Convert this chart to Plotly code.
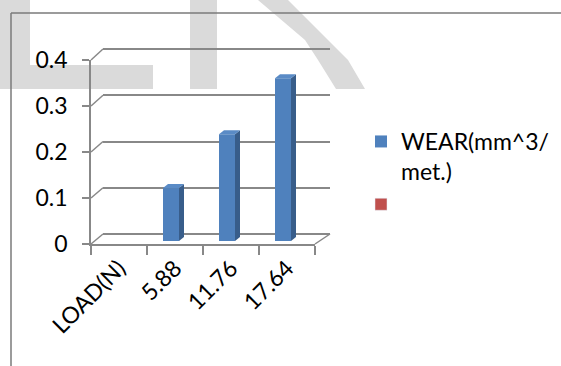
import plotly.graph_objects as go

# ---- data -------------------------------------------------------------
categories = ["LOAD(N)", "5.88", "11.76", "17.64"]
wear = [None, 0.115, 0.232, 0.354]          # WEAR(mm^3/met.)
blank_series = [None, None, None, None]     # second (empty) series
y_ticks = [0, 0.1, 0.2, 0.3, 0.4]
series_name = "WEAR(mm^3/<br>met.)"

# ---- page geometry ----------------------------------------------------
W, H = 561, 366
FONT = "Lato"
GRID = "#888888"
BLUE, BLUE_SIDE, BLUE_TOP = "#4F81BD", "#385D8A", "#5A8BC6"
RED = "#C0504D"
WATERMARK = "#DADADA"

# front plane of the 3-D box, in page pixels
FX0, FX1, FY0, FY1 = 91, 315, 244, 60
# back wall of the 3-D box
BX0, BX1, BY0, BY1 = 103, 330, 234, 49

Y_MAX = y_ticks[-1]
x_range = [-0.5, len(categories) - 0.5]
ux = (x_range[1] - x_range[0]) / (FX1 - FX0)   # data units per pixel (x)
uy = Y_MAX / (FY0 - FY1)                        # data units per pixel (y)
uyb = Y_MAX / (BY0 - BY1)


def px(x):
    return x / W


def py(y):
    return 1 - y / H


def front_y(v):
    return FY0 - v / Y_MAX * (FY0 - FY1)


def back_y(v):
    return BY0 - v / Y_MAX * (BY0 - BY1)


# bar placement inside the box depth
BAR_W_PX, BAR_SHIFT_PX, BAR_LIFT_PX = 16, -4, 3
DEPTH_X_PX, DEPTH_Y_PX = 5, 4
bar_width = BAR_W_PX * ux
bar_offset = -bar_width / 2 + BAR_SHIFT_PX * ux
bar_base = BAR_LIFT_PX * uy

fig = go.Figure()
# empty trace so the back-wall subplot (and its gridlines) is drawn
fig.add_trace(go.Scatter(x=[None], y=[None], mode="lines", showlegend=False,
                         hoverinfo="skip", xaxis="x", yaxis="y"))
fig.add_trace(go.Bar(
    x=list(range(len(categories))), y=wear, base=bar_base,
    width=bar_width, offset=bar_offset,
    marker=dict(color=BLUE, line=dict(width=0)),
    name=series_name, xaxis="x2", yaxis="y2",
))
fig.add_trace(go.Bar(
    x=list(range(len(categories))), y=blank_series,
    marker=dict(color=RED), name=" ", xaxis="x2", yaxis="y2",
))

shapes = []

# side and top faces of each column
for i, v in enumerate(wear):
    if v is None:
        continue
    left = i + bar_offset
    right = left + bar_width
    b, t = bar_base, bar_base + v
    ddx, ddy = DEPTH_X_PX * ux, DEPTH_Y_PX * uy
    shapes.append(dict(
        type="path", xref="x2", yref="y2", layer="above",
        path=f"M{right},{b} L{right+ddx},{b+ddy} L{right+ddx},{t+ddy} L{right},{t} Z",
        fillcolor=BLUE_SIDE, line=dict(width=0)))
    shapes.append(dict(
        type="path", xref="x2", yref="y2", layer="above",
        path=f"M{left},{t} L{left+ddx},{t+ddy} L{right+ddx},{t+ddy} L{right},{t} Z",
        fillcolor=BLUE_TOP, line=dict(width=0)))

# side-wall edges joining the front axis to the back wall
for v in y_ticks:
    shapes.append(dict(
        type="line", xref="paper", yref="paper", layer="below",
        x0=px(FX0), y0=py(front_y(v)), x1=px(BX0), y1=py(back_y(v)),
        line=dict(color=GRID, width=1.5)))
shapes.append(dict(
    type="line", xref="paper", yref="paper", layer="below",
    x0=px(FX1), y0=py(front_y(0)), x1=px(BX1), y1=py(back_y(0)),
    line=dict(color=GRID, width=1.5)))


# faint background lettering
def poly(points):
    return "M" + " L".join(f"{px(x)},{py(y)}" for x, y in points) + " Z"


for pts in [
    [(0, 0), (30, 0), (30, 65), (153, 65), (153, 89), (0, 89)],
    [(190, 0), (217, 0), (217, 89), (190, 89)],
    [(258, 0), (288, 0), (328, 40), (348, 60), (365, 89), (336, 89),
     (318, 60), (305, 40)],
]:
    shapes.append(dict(type="path", xref="paper", yref="paper", layer="below",
                       path=poly(pts), fillcolor=WATERMARK, line=dict(width=0)))

# chart-area border (top and left)
for x0, y0, x1, y1 in [(11, 13, W, 13), (11, 13, 11, H)]:
    shapes.append(dict(type="line", xref="paper", yref="paper", layer="above",
                       x0=px(x0), y0=py(y0), x1=px(x1), y1=py(y1),
                       line=dict(color="#7A7A7A", width=1.5)))

fig.update_layout(
    width=W, height=H,
    margin=dict(l=0, r=0, t=0, b=0, autoexpand=False),
    paper_bgcolor="white", plot_bgcolor="rgba(0,0,0,0)",
    font=dict(family=FONT, size=23, color="black"),
    barmode="overlay",
    showlegend=True,
    shapes=shapes,
    # back wall: carries the horizontal gridlines
    xaxis=dict(domain=[px(BX0), px(BX1)], range=x_range, anchor="y",
               showgrid=False, zeroline=False, showline=False,
               showticklabels=False, ticks=""),
    yaxis=dict(domain=[py(BY0 + 2), py(BY1 - 2)],
               range=[-2 * uyb, Y_MAX + 2 * uyb], anchor="x",
               tickvals=y_ticks, showgrid=True, gridcolor=GRID, gridwidth=1.5,
               zeroline=False, showline=False, showticklabels=False, ticks=""),
    # front plane: value axis and category axis
    xaxis2=dict(domain=[px(FX0), px(FX1)], range=x_range, anchor="y2",
                tickvals=list(range(len(categories))), ticktext=categories,
                tickangle=-45, ticks="", showgrid=False, zeroline=False,
                showline=True, linecolor=GRID, linewidth=1.5,
                minor=dict(tickvals=[k - 0.5 for k in range(len(categories) + 1)],
                           ticks="outside", ticklen=9, tickcolor=GRID,
                           tickwidth=1.5, showgrid=False),
                tickfont=dict(family=FONT, size=23, color="black")),
    yaxis2=dict(domain=[py(FY0), py(FY1)], range=[0, Y_MAX], anchor="x2",
                tickvals=y_ticks, ticktext=[f"{t:g}" for t in y_ticks],
                ticks="outside", ticklen=7, tickcolor=GRID, tickwidth=1.5,
                showgrid=False, zeroline=False, showline=True,
                linecolor=GRID, linewidth=1.5, ticklabelstandoff=10,
                tickfont=dict(family=FONT, size=23, color="black")),
    legend=dict(x=px(361), y=py(120), xanchor="left", yanchor="top",
                xref="paper", yref="paper", valign="top",
                bgcolor="rgba(0,0,0,0)", tracegroupgap=0,
                font=dict(family=FONT, size=23, color="black")),
)

fig.write_html("out.html")
